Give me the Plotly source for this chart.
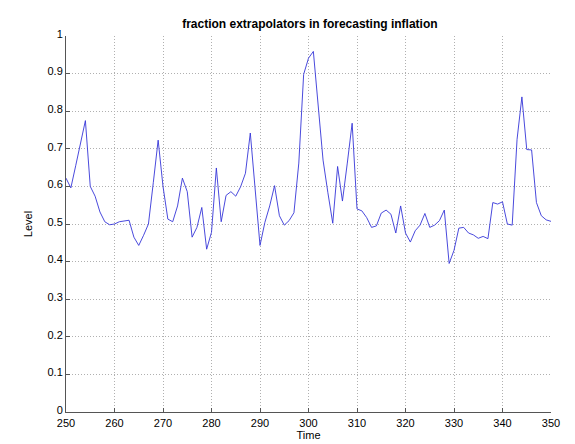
import plotly.graph_objects as go

# time index and fraction of extrapolators
time = list(range(250, 351))
level = [
    0.622, 0.596, 0.655, 0.714, 0.775, 0.600, 0.574, 0.532, 0.506, 0.498,  # 250-259
    0.500, 0.506, 0.508, 0.510, 0.465, 0.443, 0.470, 0.500, 0.610, 0.723,  # 260-269
    0.600, 0.513, 0.506, 0.548, 0.622, 0.586, 0.465, 0.491, 0.544, 0.433,  # 270-279
    0.478, 0.649, 0.506, 0.576, 0.586, 0.574, 0.599, 0.635, 0.742, 0.600,  # 280-289
    0.443, 0.504, 0.548, 0.602, 0.522, 0.497, 0.509, 0.530, 0.662, 0.898,  # 290-299
    0.941, 0.959, 0.819, 0.670, 0.583, 0.502, 0.653, 0.561, 0.662, 0.768,  # 300-309
    0.540, 0.535, 0.517, 0.491, 0.495, 0.529, 0.537, 0.526, 0.476, 0.548,  # 310-319
    0.476, 0.452, 0.482, 0.497, 0.528, 0.491, 0.497, 0.509, 0.537, 0.395,  # 320-329
    0.430, 0.489, 0.491, 0.476, 0.471, 0.462, 0.467, 0.461, 0.557, 0.553,  # 330-339
    0.559, 0.500, 0.497, 0.725, 0.838, 0.698, 0.697, 0.557, 0.522, 0.511,  # 340-349
    0.507,                                                                 # 350
]

fig = go.Figure()
fig.add_trace(go.Scatter(x=time, y=level, mode="lines",
                         line=dict(color="#3535d8", width=0.9)))

axis_style = dict(
    showline=True, linecolor="#555555", linewidth=1,
    ticks="inside", ticklen=4, tickcolor="#555555",
    showgrid=True, gridcolor="#b0b0b0", griddash="1px,2px", gridwidth=1,
    zeroline=False, mirror=False,
    tickfont=dict(family="Liberation Sans", size=11, color="black"),
)

fig.update_layout(
    width=575, height=444,
    margin=dict(l=58, r=32, t=28, b=35),
    paper_bgcolor="white", plot_bgcolor="white",
    showlegend=False,
    title=dict(text="<b>fraction extrapolators in forecasting inflation</b>",
               x=0.525, xanchor="center", y=0.964, yanchor="middle",
               font=dict(family="Liberation Sans", size=12, color="black")),
    xaxis=dict(range=[250, 350], dtick=10, tick0=250, ticklabelstandoff=1,
               title=dict(text="Time", standoff=3,
                          font=dict(family="Liberation Sans", size=11, color="black")),
               **axis_style),
    yaxis=dict(range=[0, 1], dtick=0.1, tick0=0, ticklabelshift=-2,
               title=dict(text="Level", standoff=12,
                          font=dict(family="Liberation Sans", size=11, color="black")),
               **axis_style),
)

fig.write_html("out.html")
